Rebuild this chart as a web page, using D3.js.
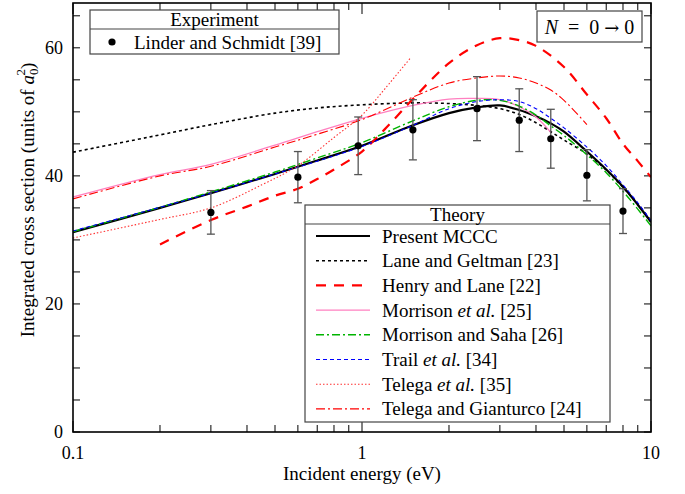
<!DOCTYPE html>
<html>
<head>
<meta charset="utf-8">
<script src="https://cdn.jsdelivr.net/npm/d3@7"></script>
<style>
  body { margin: 0; background: #fff; }
  svg { font-family: "Liberation Serif", "DejaVu Serif", serif; }
</style>
</head>
<body>
<div id="chart"></div>
<script>
// ---- data ----
// experiment (Linder and Schmidt [39])
var expE = [0.3, 0.6, 0.97, 1.5, 2.5, 3.5, 4.5, 6.0, 8.0];
var expSigma = [34.3, 39.8, 44.7, 47.2, 50.5, 48.7, 45.8, 40.1, 34.5];
var expErr = [3.4, 4.0, 4.5, 4.7, 5.0, 4.9, 4.6, 4.0, 3.5];

// theory curves
var mcccE = [0.1, 0.2, 0.3, 0.5, 0.7, 1.0, 1.5, 2.0, 2.5, 3.0, 3.5, 4.0, 4.5, 5.0, 6.0, 7.0, 8.0, 9.0, 10.0];
var mcccSigma = [31.2, 35.0, 37.3, 40.3, 42.4, 44.7, 47.9, 49.8, 50.7, 51.0, 50.3, 49.3, 48.2, 46.9, 43.8, 41.0, 38.3, 35.5, 32.8];

var laneE = [0.1, 0.2, 0.3, 0.5, 0.7, 1.0, 1.5, 2.0, 2.5, 3.0, 3.5, 4.0, 4.5, 5.0, 6.0, 7.0, 8.0, 9.0, 10.0];
var laneSigma = [43.7, 46.4, 48.0, 49.8, 50.6, 51.1, 51.4, 51.3, 51.0, 50.5, 49.6, 48.3, 46.9, 45.6, 43.4, 40.9, 38.2, 35.6, 33.0];

var henryE = [0.2, 0.3, 0.4, 0.5, 0.6, 0.7, 0.8, 1.0, 1.2, 1.5, 2.0, 2.5, 3.0, 3.5, 4.0, 5.0, 6.0, 7.0, 8.0, 9.0, 10.0];
var henrySigma = [29.3, 33.1, 35.2, 36.9, 38.0, 39.5, 41.0, 43.8, 47.3, 52.0, 57.6, 60.4, 61.5, 61.2, 60.3, 57.0, 52.7, 49.0, 45.0, 42.3, 39.8];

var morrE = [0.1, 0.2, 0.3, 0.5, 0.7, 1.0, 1.5, 2.0, 2.5, 3.0, 3.5, 4.0, 4.5];
var morrSigma = [36.7, 40.2, 41.8, 44.8, 46.9, 49.0, 51.0, 52.0, 52.1, 51.9, 50.8, 49.2, 46.8];

var sahaE = [0.1, 0.2, 0.3, 0.5, 0.7, 1.0, 1.5, 2.0, 2.5, 3.0, 3.5, 4.0, 4.5, 5.0, 6.0, 7.0, 8.0, 9.0, 10.0];
var sahaSigma = [31.3, 35.1, 37.5, 40.6, 42.8, 45.2, 48.6, 50.8, 51.8, 51.8, 50.9, 49.5, 47.8, 46.3, 43.3, 40.5, 37.6, 34.8, 32.2];

var trailE = [0.1, 0.2, 0.3, 0.5, 0.7, 1.0, 1.5, 2.0, 2.5, 3.0, 3.5, 4.0, 4.5, 5.0, 6.0, 7.0, 8.0, 9.0, 10.0];
var trailSigma = [31.4, 35.1, 37.3, 40.3, 42.3, 44.6, 47.9, 50.5, 51.6, 51.9, 51.6, 50.5, 49.0, 47.5, 44.5, 41.6, 38.6, 35.8, 33.0];

var telegaE = [0.1, 0.2, 0.3, 0.45, 0.6, 0.8, 1.0, 1.2, 1.47];
var telegaSigma = [30.3, 33.2, 35.0, 38.6, 41.6, 46.0, 49.5, 53.6, 58.4];

var telGianE = [0.1, 0.2, 0.3, 0.5, 0.7, 1.0, 1.5, 2.0, 2.5, 3.0, 3.5, 4.0, 4.5, 5.0, 6.0];
var telGianSigma = [36.4, 40.0, 41.5, 44.5, 46.5, 48.8, 52.3, 54.5, 55.3, 55.6, 55.3, 54.5, 53.4, 51.8, 48.0];

var xTicks = [0.1, 1, 10];
var yTicks = [0, 20, 40, 60];

var theoryNames = ["Present MCCC", "Lane and Geltman [23]", "Henry and Lane [22]", "Morrison et al. [25]",
  "Morrison and Saha [26]", "Trail et al. [34]", "Telega et al. [35]", "Telega and Gianturco [24]"];

// ---- layout ----
var W = 685, H = 494;
var margin = {left: 73, right: 34, top: 3, bottom: 62};
var fs = 19;

var svg = d3.select("#chart").append("svg").attr("width", W).attr("height", H);

var x = d3.scaleLog().domain([0.1, 10]).range([margin.left, W - margin.right]);
var y = d3.scaleLinear().domain([0, 67]).range([H - margin.bottom, margin.top]);

var x0 = x.range()[0], x1 = x.range()[1], y0 = y.range()[0], y1 = y.range()[1];

svg.append("clipPath").attr("id", "clip").append("rect")
  .attr("x", x0).attr("y", y1).attr("width", x1 - x0).attr("height", y0 - y1);

// ticks (inside, on all four sides)
var minorX = [];
[0.1, 1].forEach(function(d){ for (var k = 2; k <= 9; k++) minorX.push(d * k); });
var allY = d3.range(0, 67, 5);

var tk = svg.append("g").attr("stroke", "#000").attr("stroke-width", 1);
xTicks.forEach(function(d){
  tk.append("line").attr("x1", x(d)).attr("x2", x(d)).attr("y1", y0).attr("y2", y0 - 11);
  tk.append("line").attr("x1", x(d)).attr("x2", x(d)).attr("y1", y1).attr("y2", y1 + 11);
});
minorX.forEach(function(d){
  tk.append("line").attr("x1", x(d)).attr("x2", x(d)).attr("y1", y0).attr("y2", y0 - 7);
  tk.append("line").attr("x1", x(d)).attr("x2", x(d)).attr("y1", y1).attr("y2", y1 + 7);
});
allY.forEach(function(d){
  tk.append("line").attr("x1", x0).attr("x2", x0 + 7).attr("y1", y(d)).attr("y2", y(d));
  tk.append("line").attr("x1", x1).attr("x2", x1 - 7).attr("y1", y(d)).attr("y2", y(d));
});

// tick labels
svg.selectAll(".xl").data(xTicks).enter().append("text")
  .attr("x", function(d){ return x(d); }).attr("y", y0 + 27)
  .attr("text-anchor", "middle").attr("font-size", 18)
  .text(function(d){ return d; });
svg.selectAll(".yl").data(yTicks).enter().append("text")
  .attr("x", x0 - 10).attr("y", function(d){ return y(d) + 6; })
  .attr("text-anchor", "end").attr("font-size", 18)
  .text(function(d){ return d; });

// axis titles
svg.append("text").attr("x", (x0 + x1) / 2).attr("y", 480)
  .attr("text-anchor", "middle").attr("font-size", fs).text("Incident energy (eV)");

var yt = svg.append("text").attr("transform", "translate(34,200) rotate(-90)")
  .attr("text-anchor", "middle").attr("font-size", fs);
yt.append("tspan").text("Integrated cross section (units of ");
yt.append("tspan").attr("font-style", "italic").text("a");
yt.append("tspan").attr("font-size", 13).attr("dy", 4).text("0");
yt.append("tspan").attr("font-size", 13).attr("dx", -7).attr("dy", -13).text("2");
yt.append("tspan").attr("dy", 9).text(")");

// curves
var line = d3.line()
  .x(function(d){ return x(d[0]); })
  .y(function(d){ return y(d[1]); })
  .curve(d3.curveCatmullRom);

var styles = [
  {color: "#000", width: 2.2, dash: null},
  {color: "#000", width: 1.6, dash: "3,3"},
  {color: "#ff0000", width: 2.2, dash: "10,8"},
  {color: "#ff80c0", width: 1.3, dash: null},
  {color: "#00b400", width: 1.4, dash: "8,3,2,3"},
  {color: "#0000ff", width: 1.1, dash: "4,3"},
  {color: "#ff3030", width: 1.1, dash: "1.5,2"},
  {color: "#ff0000", width: 1.1, dash: "9,3,2,3"}
];
var curves = [
  d3.zip(mcccE, mcccSigma), d3.zip(laneE, laneSigma), d3.zip(henryE, henrySigma),
  d3.zip(morrE, morrSigma), d3.zip(sahaE, sahaSigma), d3.zip(trailE, trailSigma),
  d3.zip(telegaE, telegaSigma), d3.zip(telGianE, telGianSigma)
];

var plot = svg.append("g").attr("clip-path", "url(#clip)");
curves.forEach(function(c, i){
  plot.append("path").datum(c)
    .attr("d", line)
    .attr("fill", "none")
    .attr("stroke", styles[i].color)
    .attr("stroke-width", styles[i].width)
    .attr("stroke-dasharray", styles[i].dash);
});

// experiment with error bars
var exp = d3.range(expE.length).map(function(i){ return {e: expE[i], s: expSigma[i], err: expErr[i]}; });
var eb = plot.append("g").attr("stroke", "#555").attr("stroke-width", 1.3);
exp.forEach(function(d){
  eb.append("line").attr("x1", x(d.e)).attr("x2", x(d.e)).attr("y1", y(d.s - d.err)).attr("y2", y(d.s + d.err));
  eb.append("line").attr("x1", x(d.e) - 4).attr("x2", x(d.e) + 4).attr("y1", y(d.s - d.err)).attr("y2", y(d.s - d.err));
  eb.append("line").attr("x1", x(d.e) - 4).attr("x2", x(d.e) + 4).attr("y1", y(d.s + d.err)).attr("y2", y(d.s + d.err));
});
plot.selectAll("circle").data(exp).enter().append("circle")
  .attr("cx", function(d){ return x(d.e); })
  .attr("cy", function(d){ return y(d.s); })
  .attr("r", 3.6).attr("fill", "#000");

// frame
svg.append("rect").attr("x", x0).attr("y", y1).attr("width", x1 - x0).attr("height", y0 - y1)
  .attr("fill", "none").attr("stroke", "#000").attr("stroke-width", 1.6);

// experiment legend
var lg1 = svg.append("g");
lg1.append("rect").attr("x", 90).attr("y", 10).attr("width", 249).attr("height", 44)
  .attr("fill", "#fff").attr("stroke", "#444").attr("stroke-width", 1.2);
lg1.append("line").attr("x1", 90).attr("x2", 339).attr("y1", 29).attr("y2", 29).attr("stroke", "#444").attr("stroke-width", 1.2);
lg1.append("text").attr("x", 214.5).attr("y", 26).attr("text-anchor", "middle").attr("font-size", fs).text("Experiment");
lg1.append("circle").attr("cx", 112).attr("cy", 42).attr("r", 3.6).attr("fill", "#000");
lg1.append("text").attr("x", 134).attr("y", 48.5).attr("font-size", fs).text("Linder and Schmidt [39]");

// N = 0 -> 0 box
var lgN = svg.append("g");
lgN.append("rect").attr("x", 537).attr("y", 11).attr("width", 105).attr("height", 31)
  .attr("fill", "#fff").attr("stroke", "#444").attr("stroke-width", 1.2);
var nt = lgN.append("text").attr("x", 589.5).attr("y", 33.5).attr("text-anchor", "middle").attr("font-size", 20)
  .attr("xml:space", "preserve").style("white-space", "pre");
nt.append("tspan").attr("font-style", "italic").text("N");
nt.append("tspan").text("  =  0 ");
nt.append("tspan").attr("font-family", "DejaVu Serif").attr("font-size", 18).text("\u2192");
nt.append("tspan").text(" 0");

// theory legend
var lg2 = svg.append("g");
lg2.append("rect").attr("x", 305).attr("y", 205).attr("width", 305).attr("height", 217)
  .attr("fill", "#fff").attr("stroke", "#444").attr("stroke-width", 1.2);
lg2.append("line").attr("x1", 305).attr("x2", 610).attr("y1", 224).attr("y2", 224).attr("stroke", "#444").attr("stroke-width", 1.2);
lg2.append("text").attr("x", 457.5).attr("y", 220.5).attr("text-anchor", "middle").attr("font-size", fs).text("Theory");

theoryNames.forEach(function(name, i){
  var yy = 236 + i * 24.7;
  lg2.append("line").attr("x1", 316).attr("x2", 370).attr("y1", yy).attr("y2", yy)
    .attr("stroke", styles[i].color).attr("stroke-width", styles[i].width)
    .attr("stroke-dasharray", styles[i].dash);
  var t = lg2.append("text").attr("x", 382).attr("y", yy + 6.5).attr("font-size", fs);
  var m = name.match(/^(.*?)(et al\.)(.*)$/);
  if (m) {
    t.append("tspan").text(m[1]);
    t.append("tspan").attr("font-style", "italic").text(m[2]);
    t.append("tspan").text(m[3]);
  } else {
    t.text(name);
  }
});
</script>
</body>
</html>
